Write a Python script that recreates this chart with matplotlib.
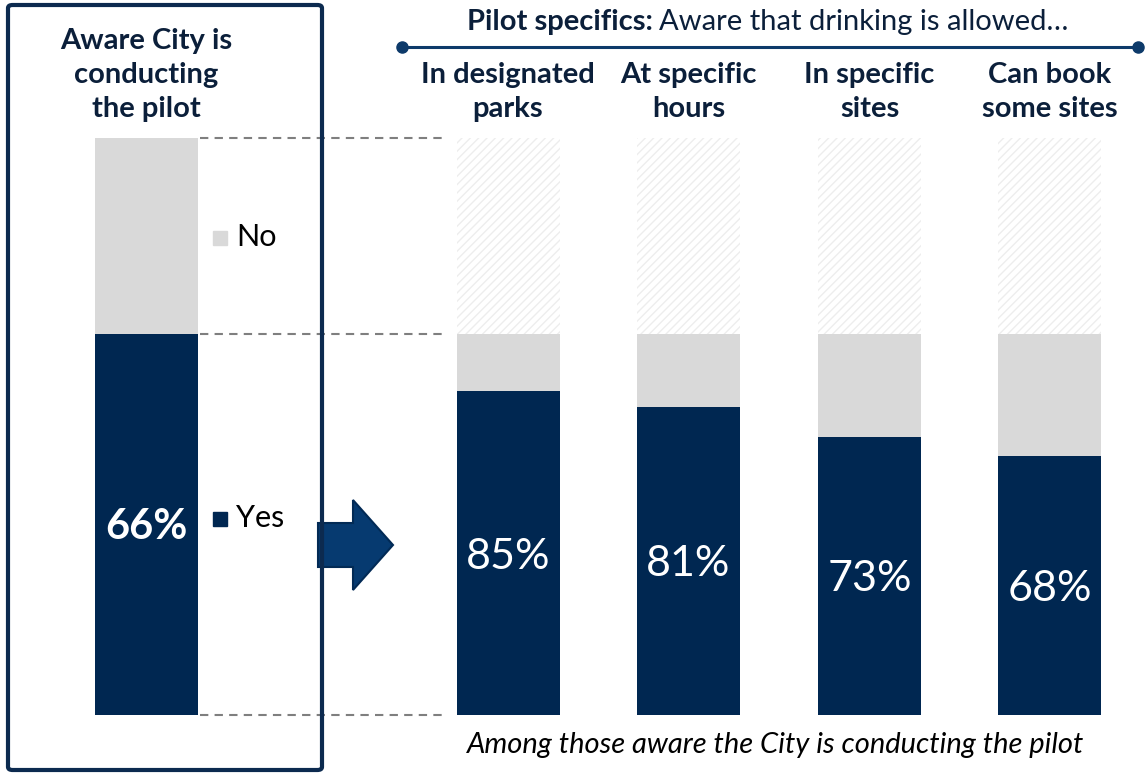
import matplotlib.pyplot as plt
from matplotlib.patches import Polygon, FancyBboxPatch
from matplotlib.lines import Line2D

plt.rcParams['font.family'] = ['Lato', 'DejaVu Sans']

# --- data ---
aware_yes = 66
left_title = "Aware City is\nconducting\nthe pilot"
pilot_labels = ["In designated\nparks", "At specific\nhours", "In specific\nsites", "Can book\nsome sites"]
pilot_yes = [85, 81, 73, 68]
legend_labels = ["No", "Yes"]

NAVY = '#002751'
GREY = '#d9d9d9'
HATCH = '#ededed'
TXT = '#0b1f3a'
W, H = 1145, 773

fig = plt.figure(figsize=(W / 100, H / 100), dpi=100)
ax = fig.add_axes([0, 0, 1, 1])
ax.set_xlim(0, W)
# 0% sits at pixel row 715, 100% at pixel row 138
scale = (715 - 138) / 100
ax.set_ylim((715 - H) / scale, 715 / scale)
ax.axis('off')


def f(x, y):
    # pixel (from top-left) -> figure fraction
    return x / W, 1 - y / H


def py(y):
    # pixel row -> data y
    return (715 - y) / scale


bw = 103
left_x = 146.5
right_x = [508, 688.5, 869.5, 1049.5]

# left bar: aware yes / no
ax.bar(left_x, aware_yes, width=bw, color=NAVY, zorder=2)
ax.bar(left_x, 100 - aware_yes, bottom=aware_yes, width=bw, color=GREY, zorder=2)
ax.text(left_x, aware_yes / 2 - 0.5, f"{aware_yes}%", ha='center', va='center',
        color='white', fontsize=30, fontweight='bold', zorder=3)

# right bars: scaled by share aware
for x, p in zip(right_x, pilot_yes):
    yes = aware_yes * p / 100
    ax.bar(x, yes, width=bw, color=NAVY, zorder=2)
    ax.bar(x, aware_yes - yes, bottom=yes, width=bw, color=GREY, zorder=2)
    ax.bar(x, 100 - aware_yes, bottom=aware_yes, width=bw, color='white',
           edgecolor=HATCH, hatch='////', linewidth=0, zorder=1)
    ax.text(x, yes / 2 - 0.6, f"{p}%", ha='center', va='center', color='white',
            fontsize=31, zorder=3)

# dashed connector lines
for yv in [0, aware_yes, 100]:
    ax.plot([200, 447], [yv, yv], color='#7f7f7f', lw=1.5, ls=(0, (4, 3)), zorder=1)

# legend-like labels
for lab, col, yp in zip(legend_labels, [GREY, NAVY], [238, 519]):
    ax.plot(220, py(yp), marker='s', ms=10, color=col, ls='none', zorder=3)
    ax.text(236, py(yp - 1), lab, ha='left', va='center', fontsize=22, color='black')

# left box
box = FancyBboxPatch(f(8, 770), 314 / W, 765 / H, boxstyle='round,pad=0,rounding_size=0.004',
                     transform=fig.transFigure, fill=False, edgecolor='#0c2a4f', lw=3, zorder=5)
fig.patches.append(box)

# arrow
pts = [(318, 523), (353, 523), (353, 500), (393, 545), (353, 590), (353, 567), (318, 567)]
arrow = Polygon([f(x, y) for x, y in pts], closed=True, transform=fig.transFigure,
                facecolor='#063a70', edgecolor='#022a55', lw=1.5, zorder=4)
fig.patches.append(arrow)

# header line
x0, y0 = f(402, 47)
x1, _ = f(1138, 47)
fig.add_artist(Line2D([x0, x1], [y0, y0], transform=fig.transFigure, color='#0d3a6a',
                      lw=2.2, marker='o', ms=8))

# titles
fig.text(*f(146, 75), left_title, ha='center', va='center', fontsize=21,
         fontweight='bold', color=TXT, linespacing=1.38)
hx, hy = f(467, 22)
t1 = fig.text(hx, hy, "Pilot specifics:", ha='left', va='center', fontsize=21,
              fontweight='bold', color=TXT)
fig.canvas.draw()
bb = t1.get_window_extent()
fig.text(bb.x1 / W + 6 / W, hy, "Aware that drinking is allowed\u2026", ha='left', va='center',
         fontsize=21, color=TXT)
for x, lab in zip(right_x, pilot_labels):
    fig.text(*f(x, 92), lab, ha='center', va='center', fontsize=21, fontweight='bold',
             color=TXT, linespacing=1.38)

fig.text(*f(776, 745), "Among those aware the City is conducting the pilot", ha='center',
         va='center', fontsize=21, style='italic', color='black')

fig.savefig('out.png', dpi=100)
